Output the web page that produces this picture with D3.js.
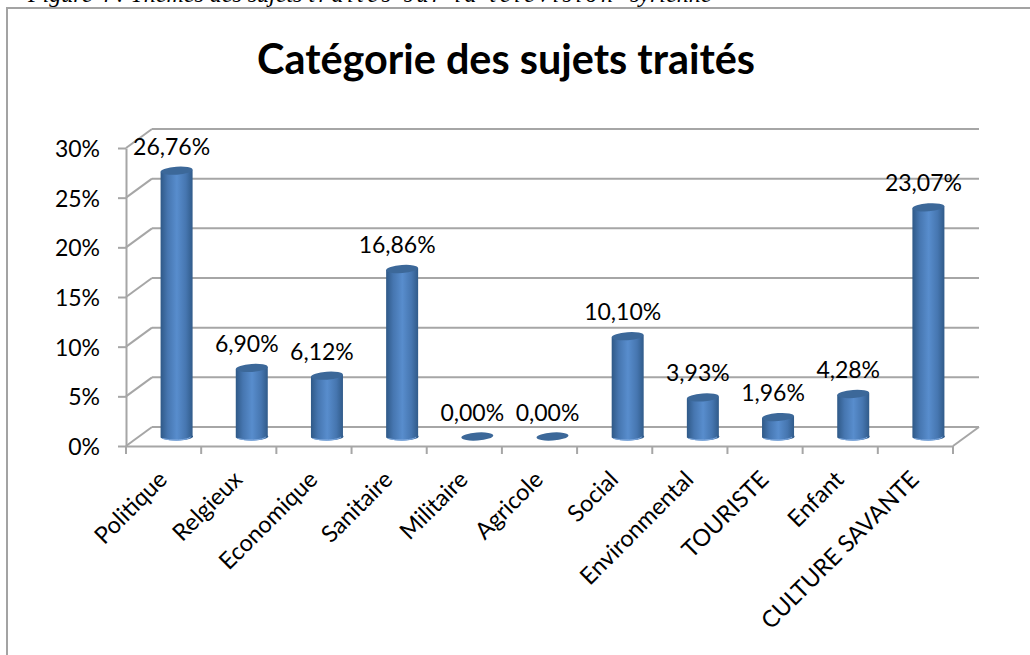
<!DOCTYPE html>
<html>
<head>
<meta charset="utf-8">
<script src="https://d3js.org/d3.v7.min.js"></script>
<style>
  body { margin: 0; background: #fff; }
  svg { display: block; }
  text { font-family: Lato, sans-serif; fill: #000; }
  .axis path, .axis line, .grid line { stroke: #a6a6a6; stroke-width: 2; fill: none; }
  .axis text { font-size: 23px; }
  .cats text { font-size: 23.5px; }
</style>
</head>
<body>
<div id="chart"></div>
<script>
var categories = ["Politique", "Relgieux", "Economique", "Sanitaire", "Militaire", "Agricole",
                  "Social", "Environmental", "TOURISTE", "Enfant", "CULTURE SAVANTE"];
var values = [0.2676, 0.069, 0.0612, 0.1686, 0, 0, 0.101, 0.0393, 0.0196, 0.0428, 0.2307];
var yTicks = [0, 0.05, 0.10, 0.15, 0.20, 0.25, 0.30];
var chartTitle = "Catégorie des sujets traités";
var caption = "Figure 4 : Thèmes des sujets ";
var captionMiddle = "traités sur la télévision";
var captionEnd = "syrienne";

var svgWidth = 1030,
    svgHeight = 655;

// front edge of the 3D box, and how far the back wall is shifted from it
var plot = {left: 126, right: 953, top: 148, bottom: 446};
var depth = {x: 26, y: -19};
var barWidth = 32, capRy = 4;

var frLocale = d3.formatLocale({decimal: ",", thousands: " ", grouping: [3], currency: ["", " €"]});
var labelFormat = frLocale.format(".2%");

var svg = d3.select("#chart")
  .append("svg")
    .attr("width", svgWidth)
    .attr("height", svgHeight);

var defs = svg.append("defs");
var grad = defs.append("linearGradient")
    .attr("id", "cyl")
    .attr("x1", "0%").attr("x2", "100%").attr("y1", "0%").attr("y2", "0%");
grad.append("stop").attr("offset", "0%").attr("stop-color", "#2f5987");
grad.append("stop").attr("offset", "22%").attr("stop-color", "#4676b0");
grad.append("stop").attr("offset", "50%").attr("stop-color", "#588dcd");
grad.append("stop").attr("offset", "78%").attr("stop-color", "#4676b0");
grad.append("stop").attr("offset", "100%").attr("stop-color", "#2f5987");

// caption of the page, mostly cut off by the top of the picture
var cap = svg.append("text")
    .attr("x", 28)
    .attr("y", 1.5)
    .style("font-family", "'Liberation Serif', serif")
    .style("font-style", "italic")
    .style("font-size", "24px")
    .text(caption);
cap.append("tspan")
    .style("letter-spacing", "3.5px")
    .text(captionMiddle);
cap.append("tspan")
    .attr("x", 630)
    .text(captionEnd);

// chart frame, runs off the picture on the right and at the bottom
svg.append("rect")
    .attr("x", 7)
    .attr("y", 8)
    .attr("width", svgWidth + 20)
    .attr("height", svgHeight + 20)
    .attr("fill", "none")
    .attr("stroke", "#a3a3a3")
    .attr("stroke-width", 2);

svg.append("text")
    .attr("x", 506)
    .attr("y", 74)
    .attr("text-anchor", "middle")
    .style("font-size", "41.4px")
    .style("font-weight", "bold")
    .text(chartTitle);

var x = d3.scaleBand()
    .domain(categories)
    .range([plot.left, plot.right]);

var y = d3.scaleLinear()
    .domain([0, 0.30])
    .range([plot.bottom, plot.top]);

// back wall gridlines and the side diagonals
var grid = svg.append("g").attr("class", "grid");
grid.selectAll(".back")
    .data(yTicks)
    .enter()
    .append("line")
      .attr("class", "back")
      .attr("x1", plot.left + depth.x)
      .attr("x2", plot.right + depth.x)
      .attr("y1", function(d) { return y(d) + depth.y; })
      .attr("y2", function(d) { return y(d) + depth.y; });
grid.selectAll(".side")
    .data(yTicks)
    .enter()
    .append("line")
      .attr("class", "side")
      .attr("x1", plot.left)
      .attr("x2", plot.left + depth.x)
      .attr("y1", function(d) { return y(d); })
      .attr("y2", function(d) { return y(d) + depth.y; });
grid.append("line")
    .attr("x1", plot.right)
    .attr("x2", plot.right + depth.x)
    .attr("y1", y(0))
    .attr("y2", y(0) + depth.y);

// Y axis
var yAxis = svg.append("g")
    .attr("class", "axis")
    .attr("transform", "translate(" + plot.left + ",0)")
    .call(d3.axisLeft(y).tickValues(yTicks).tickFormat(d3.format(".0%")).tickSize(8).tickSizeOuter(0).tickPadding(18));
yAxis.selectAll("text").attr("y", 1);

// X axis, ticks sit between the categories
var xAxis = svg.append("g")
    .attr("class", "axis cats")
    .attr("transform", "translate(0," + plot.bottom + ")")
    .call(d3.axisBottom(x).tickSize(0).tickSizeOuter(0));
xAxis.selectAll("text")
    .style("text-anchor", "end")
    .attr("dx", 0)
    .attr("dy", 0)
    .attr("x", 0)
    .attr("y", 0)
    .attr("transform", "translate(5,35) rotate(-45)");
svg.append("g")
    .attr("class", "grid")
    .selectAll("line")
    .data(categories.concat(["end"]))
    .enter()
    .append("line")
      .attr("x1", function(d, i) { return plot.left + i * x.step(); })
      .attr("x2", function(d, i) { return plot.left + i * x.step(); })
      .attr("y1", plot.bottom)
      .attr("y2", plot.bottom + 8);

// bars: a cylinder standing in the middle of the floor
function barCx(i) { return x(categories[i]) + x.bandwidth() / 2 + depth.x / 2; }
function barBase() { return y(0) + depth.y / 2; }
function barTop(d) { return y(d) + depth.y / 2; }

var bars = svg.selectAll(".bar")
    .data(values)
    .enter()
    .append("g")
      .attr("class", "bar")
      .attr("transform", function(d, i) { return "translate(" + barCx(i) + ",0)"; });

var standing = bars.filter(function(d) { return d > 0; });

standing.append("path")
    .attr("fill", "url(#cyl)")
    .attr("d", function(d) {
      var r = barWidth / 2;
      return "M" + (-r) + "," + (barTop(d) + 1)
        + "L" + (-r) + "," + (barBase() + 1)
        + "A" + r + "," + capRy + " 0 0 0 " + r + "," + (barBase() - 1)
        + "L" + r + "," + (barTop(d) - 1)
        + "Z";
    });

// light rim along the foot of each cylinder
standing.append("path")
    .attr("fill", "none")
    .attr("stroke", "#7ea9df")
    .attr("stroke-width", 1)
    .attr("d", function() {
      var r = barWidth / 2;
      return "M" + (-r + 2) + "," + (barBase() + 2)
        + "A" + r + "," + capRy + " 0 0 0 " + (r - 2) + "," + (barBase() + 0.5);
    });

bars.append("ellipse")
    .attr("rx", barWidth / 2)
    .attr("ry", capRy)
    .attr("cy", function(d) { return barTop(d); })
    .attr("fill", "#3c6899")
    .attr("transform", function(d) { return "rotate(-4 0 " + barTop(d) + ")"; });

// data labels
svg.selectAll(".label")
    .data(values)
    .enter()
    .append("text")
      .attr("class", "label")
      .attr("x", function(d, i) { return barCx(i) - 5; })
      .attr("y", function(d) { return barTop(d) - 16; })
      .attr("text-anchor", "middle")
      .style("font-size", "23px")
      .text(function(d) { return labelFormat(d); });
</script>
</body>
</html>
